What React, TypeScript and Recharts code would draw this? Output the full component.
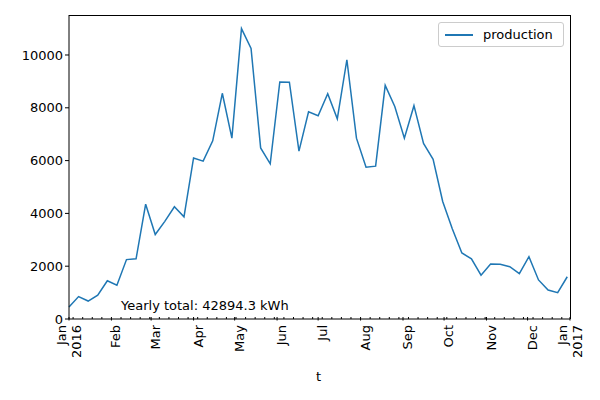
import { LineChart, Line, XAxis, YAxis } from 'recharts'

const production = [450, 850, 680, 900, 1450, 1280, 2250, 2280, 4350, 3200, 3700, 4250, 3870, 6100, 5980, 6750, 8550, 6850, 11000, 10250, 6480, 5880, 8980, 8970, 6360, 7850, 7700, 8530, 7580, 9820, 6850, 5750, 5790, 8850, 8050, 6850, 8080, 6650, 6050, 4450, 3420, 2500, 2280, 1660, 2080, 2070, 1980, 1720, 2360, 1480, 1100, 1000, 1600]
const monthDays = [0, 31, 60, 91, 121, 152, 182, 213, 244, 274, 305, 335, 366]
const monthLabels = ['Jan', 'Feb', 'Mar', 'Apr', 'May', 'Jun', 'Jul', 'Aug', 'Sep', 'Oct', 'Nov', 'Dec', 'Jan']
const yTicks = [0, 2000, 4000, 6000, 8000, 10000]

const data = production.map((v, i) => ({ day: i * 7, production: v }))
const minorDays: number[] = []
for (let d = 3; d < 366; d += 7) if (!monthDays.includes(d)) minorDays.push(d)
const xTicks = [...monthDays, ...minorDays].sort((a, b) => a - b)

const FONT = 'DejaVu Sans, sans-serif'

function MonthTick({ x, y, payload }: any) {
  const idx = monthDays.indexOf(payload.value)
  if (idx < 0) return <line x1={x} x2={x} y1={y - 8} y2={y - 6} stroke="#000" />
  const year = idx === 0 ? '2016' : idx === 12 ? '2017' : null
  return (
    <g>
      <line x1={x} x2={x} y1={y - 8} y2={y - 4.5} stroke="#000" />
      <text transform={`translate(${x + (year ? -3 : 9)},${y}) rotate(-90)`} textAnchor="end" fontSize={13} fontFamily={FONT} fill="#000">
        {monthLabels[idx]}
      </text>
      {year && (
        <text transform={`translate(${x + 12},${y}) rotate(-90)`} textAnchor="end" fontSize={13} fontFamily={FONT} fill="#000">
          {year}
        </text>
      )}
    </g>
  )
}

export default function App() {
  return (
    <div style={{ position: 'relative', width: 600, height: 400, margin: -8, background: '#fff' }}>
      <LineChart width={600} height={400} data={data} margin={{ top: 15, right: 30, bottom: 0, left: 9 }}>
        <XAxis dataKey="day" type="number" domain={[0, 366]} ticks={xTicks} interval={0}
               tick={<MonthTick />} tickLine={false} axisLine={{ stroke: '#000' }} height={81} tickMargin={0} />
        <YAxis type="number" domain={[0, 11515]} ticks={yTicks} width={60} tickLine={{ stroke: '#000' }} tickSize={4}
               axisLine={{ stroke: '#000' }} tick={{ fontSize: 13, fill: '#000', fontFamily: FONT }} />
        <Line dataKey="production" stroke="#1f77b4" strokeWidth={1.5} dot={false} isAnimationActive={false} />
      </LineChart>
      <div style={{ position: 'absolute', left: 570, top: 15, width: 1, height: 304, background: '#000' }} />
      <div style={{ position: 'absolute', left: 69, top: 15, width: 501, height: 1, background: '#000' }} />
      <div style={{ position: 'absolute', left: 121, top: 298, fontSize: 13, fontFamily: FONT }}>Yearly total: 42894.3 kWh</div>
      <div style={{ position: 'absolute', left: 316, top: 369, fontSize: 13, fontFamily: FONT }}>t</div>
      <div style={{ position: 'absolute', left: 438, top: 22, width: 126, height: 25, border: '1px solid #ccc', borderRadius: 3,
                    display: 'flex', alignItems: 'center', fontSize: 13, fontFamily: FONT, boxSizing: 'border-box' }}>
        <span style={{ display: 'inline-block', width: 28, height: 2, background: '#1f77b4', margin: '0 10px 0 6px' }} />
        production
      </div>
    </div>
  )
}
